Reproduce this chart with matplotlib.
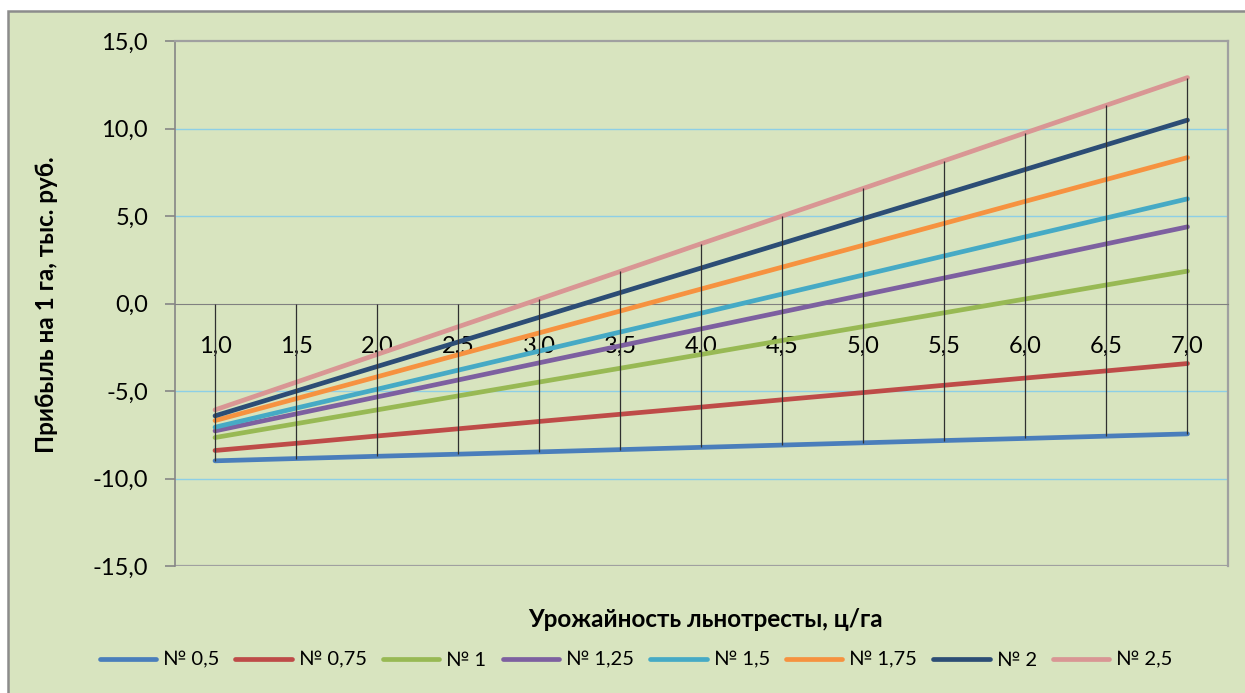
import matplotlib.pyplot as plt
from matplotlib.patches import Rectangle
from matplotlib.ticker import FuncFormatter
import numpy as np

plt.rcParams['font.family'] = ['Lato', 'Noto Sans', 'DejaVu Sans']

# урожайность, ц/га
x_labels = ["1,0", "1,5", "2,0", "2,5", "3,0", "3,5", "4,0",
            "4,5", "5,0", "5,5", "6,0", "6,5", "7,0"]

# прибыль на 1 га, тыс. руб.
s_05 = [-8.99, -8.86, -8.73, -8.61, -8.48, -8.35, -8.22, -8.09, -7.96, -7.83, -7.71, -7.58, -7.45]
s_075 = [-8.40, -7.99, -7.57, -7.16, -6.74, -6.33, -5.92, -5.50, -5.09, -4.67, -4.26, -3.85, -3.43]
s_1 = [-7.66, -6.87, -6.08, -5.28, -4.49, -3.70, -2.91, -2.11, -1.32, -0.53, 0.26, 1.06, 1.85]
s_125 = [-7.28, -6.31, -5.34, -4.37, -3.39, -2.42, -1.45, -0.48, 0.49, 1.46, 2.43, 3.41, 4.38]
s_15 = [-7.07, -5.98, -4.90, -3.81, -2.72, -1.63, -0.55, 0.54, 1.63, 2.72, 3.81, 4.89, 5.98]
s_175 = [-6.69, -5.44, -4.19, -2.93, -1.68, -0.43, 0.83, 2.08, 3.33, 4.58, 5.84, 7.09, 8.34]
s_2 = [-6.42, -5.01, -3.60, -2.20, -0.79, 0.62, 2.03, 3.44, 4.85, 6.25, 7.66, 9.07, 10.48]
s_25 = [-6.08, -4.50, -2.91, -1.33, 0.25, 1.83, 3.42, 5.00, 6.58, 8.16, 9.75, 11.33, 12.91]

names = ["№ 0,5", "№ 0,75", "№ 1", "№ 1,25", "№ 1,5", "№ 1,75", "№ 2", "№ 2,5"]
series = [s_05, s_075, s_1, s_125, s_15, s_175, s_2, s_25]
colors = ["#4A7EBB", "#BE4B48", "#98B954", "#7D60A0", "#46AAC5", "#F69240", "#2C4D75", "#D99694"]

bg = "#D8E4BF"
fig = plt.figure(figsize=(12.45, 6.93), dpi=100)
fig.patch.set_facecolor("white")
fig.patches.append(Rectangle((8 / 1245, -0.05), 1.1, 1 - 11 / 693 + 0.05,
                             transform=fig.transFigure, facecolor=bg,
                             edgecolor="#8C8C8C", linewidth=1.8, zorder=-10))

ax = fig.add_axes([174.5 / 1245, 1 - 566 / 693, (1228 - 174.5) / 1245, 525 / 693])
ax.set_facecolor(bg)
x = np.arange(len(x_labels))

# линии сетки
for g in [-10, -5, 5, 10]:
    ax.axhline(g, color="#8DCFE6", lw=1, zorder=1)
ax.axhline(-15, color="#A0A0A0", lw=1.6, zorder=1)

for s, c, n in zip(series, colors, names):
    ax.plot(x, s, color=c, lw=3.4, label=n, zorder=3, solid_capstyle="round")

# вертикальные линии (high-low)
arr = np.array(series)
top = np.maximum(arr.max(axis=0), 0)
ax.vlines(x, arr.min(axis=0), top, color="#303030", lw=0.9, zorder=4)

ax.set_xlim(-0.5, len(x_labels) - 0.5)
ax.set_ylim(-15, 15)
ax.set_yticks([-15, -10, -5, 0, 5, 10, 15])
ax.yaxis.set_major_formatter(FuncFormatter(lambda v, p: ("%.1f" % v).replace(".", ",")))
ax.set_xticks(x)
ax.set_xticklabels(x_labels)

ax.spines['bottom'].set_position(('data', 0))
ax.spines['bottom'].set_color("#808080")
ax.spines['left'].set_color("#868686")
ax.spines['left'].set_linewidth(1.2)
for sp in ['top', 'right']:
    ax.spines[sp].set_color("#A0A0A0")
    ax.spines[sp].set_linewidth(1.6)

ax.tick_params(axis='x', length=0, pad=23, labelsize=17)
ax.tick_params(axis='y', length=7, width=1.2, color="#868686", pad=12, labelsize=17)

ax.set_ylabel("Прибыль на 1 га, тыс. руб.", fontsize=17.5, fontweight="bold")
ax.yaxis.set_label_coords(-0.1106, 0.497)
ax.set_xlabel("Урожайность льнотресты, ц/га", fontsize=17.5, fontweight="bold")
ax.xaxis.set_label_coords(0.5036, -0.08)

fig.legend(loc="center", bbox_to_anchor=(0.511, 1 - 660 / 693), ncol=8, frameon=False,
           fontsize=14.5, handlelength=2.8, handletextpad=0.35, columnspacing=0.8)

fig.savefig("out.png", dpi=100, facecolor=fig.get_facecolor())
